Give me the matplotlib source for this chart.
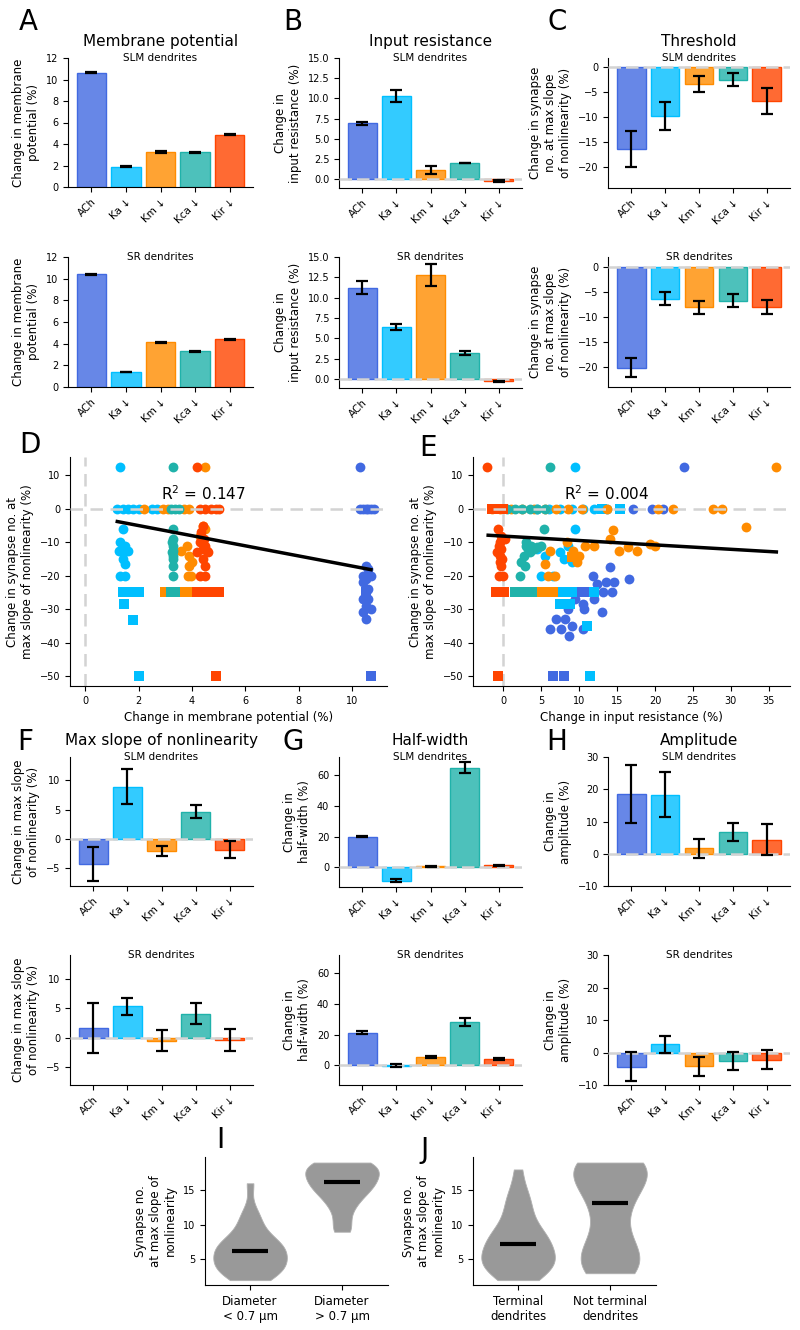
import numpy as np
import matplotlib
matplotlib.use("Agg")
import matplotlib.pyplot as plt
from matplotlib.colors import to_rgba

# ---------------- data ----------------
channels = ["ACh", "Ka ↓", "Km ↓", "Kca ↓", "Kir ↓"]
colors = ["royalblue", "deepskyblue", "darkorange", "lightseagreen", "orangered"]

# A - membrane potential
mp_slm = [10.65, 1.9, 3.25, 3.25, 4.85]
mp_slm_err = [0.05, 0.06, 0.08, 0.05, 0.05]
mp_sr = [10.4, 1.4, 4.15, 3.3, 4.4]
mp_sr_err = [0.04, 0.03, 0.05, 0.04, 0.05]
# B - input resistance
ir_slm = [6.9, 10.3, 1.1, 2.0, -0.25]
ir_slm_err = [0.2, 0.75, 0.5, 0.05, 0.1]
ir_sr = [11.2, 6.4, 12.8, 3.2, -0.3]
ir_sr_err = [0.8, 0.35, 1.4, 0.2, 0.1]
# C - threshold
th_slm = [-16.4, -9.7, -3.4, -2.5, -6.8]
th_slm_err = [3.6, 2.8, 1.6, 1.3, 2.6]
th_sr = [-20.1, -6.3, -8.0, -6.7, -8.0]
th_sr_err = [1.9, 1.3, 1.3, 1.3, 1.4]
# F - max slope
ms_slm = [-4.2, 8.9, -2.0, 4.7, -1.8]
ms_slm_err = [2.9, 3.0, 0.9, 1.1, 1.4]
ms_sr = [1.7, 5.3, -0.5, 4.1, -0.4]
ms_sr_err = [4.2, 1.4, 1.8, 1.7, 1.8]
# G - half-width
hw_slm = [20.0, -9.0, 0.6, 65.0, 1.2]
hw_slm_err = [0.6, 1.0, 0.3, 3.5, 0.3]
hw_sr = [21.2, -0.3, 5.3, 28.4, 4.1]
hw_sr_err = [1.0, 1.2, 0.6, 2.5, 0.6]
# H - amplitude
am_slm = [18.6, 18.3, 1.7, 6.6, 4.4]
am_slm_err = [9.0, 7.0, 3.0, 2.8, 4.7]
am_sr = [-4.4, 2.5, -4.3, -2.5, -2.2]
am_sr_err = [4.5, 2.7, 3.0, 2.8, 2.9]

# D - threshold change vs membrane potential change (circles / squares)
ach_d_cx = [10.3, 10.3, 10.4, 10.5, 10.6, 10.7, 10.8, 10.5, 10.6, 10.4, 10.5, 10.7, 10.4, 10.6, 10.5, 10.4, 10.6, 10.5, 10.7, 10.4, 10.5]
ach_d_cy = [12.5, 0, 0, 0, 0, 0, 0, -17, -18, -20, -21, -20, -22, -24, -25, -27, -27, -29, -30, -31, -33]
ach_d_sx = [10.5, 10.7]
ach_d_sy = [-25, -50]
ka_d_cx = [1.3, 1.2, 1.4, 1.6, 1.8, 2.0, 2.5, 2.7, 1.4, 1.3, 1.4, 1.5, 1.25, 1.35, 1.45, 1.6, 1.4, 1.5, 1.3, 1.5]
ka_d_cy = [12.5, 0, 0, 0, 0, 0, 0, 0, -6, -10, -11, -11, -12.5, -12.5, -13, -12.5, -15, -16.5, -20, -20]
ka_d_sx = [1.4, 1.6, 1.8, 2.0, 1.45, 1.8, 2.0]
ka_d_sy = [-25, -25, -25, -25, -28.6, -33.3, -50]
km_d_cx = [4.5, 2.2, 2.9, 3.1, 3.7, 3.9, 4.4, 4.5, 4.3, 3.6, 3.8, 3.9, 4.0, 3.9, 3.85, 3.95]
km_d_cy = [12.5, 0, 0, 0, 0, 0, -5, -6, -8, -12.5, -11, -14, -16, -17, -20, -20]
km_d_sx = [3.0, 3.6, 3.95]
km_d_sy = [-25, -25, -25]
kca_d_cx = [3.3, 3.2, 3.35, 3.5, 3.3, 3.3, 3.25, 3.3, 3.3, 3.25, 3.3, 3.3, 3.3, 3.3]
kca_d_cy = [12.5, 0, 0, 0, -6, -9, -10, -11, -12.5, -13, -14, -15, -17, -20]
kca_d_sx = [3.2, 3.35]
kca_d_sy = [-25, -25]
kir_d_cx = [4.2, 4.3, 4.5, 4.7, 4.9, 5.0, 4.4, 4.35, 4.45, 4.3, 4.5, 4.4, 4.55, 4.2, 4.6, 4.4, 4.5, 4.3, 4.5]
kir_d_cy = [12.5, 0, 0, 0, 0, 0, -5, -7, -9, -10, -11, -12, -12.5, -13, -13, -15, -17, -20, -20]
kir_d_sx = [4.2, 4.4, 4.6, 4.8, 5.0, 4.9]
kir_d_sy = [-25, -25, -25, -25, -25, -50]
fit_d_x = [1.2, 10.7]
fit_d_y = [-3.8, -18.2]

# E - threshold change vs input resistance change
ach_e_cx = [23.8, 17.1, 19.6, 21.0, 14.1, 16.6, 13.5, 14.6, 11.8, 12.4, 11.5, 13.2, 14.3, 9.5, 10.5, 12.0, 8.5, 13.0, 10.6, 7.0, 8.1, 9.0, 10.5, 7.6, 6.2, 8.6]
ach_e_cy = [12.5, 0, 0, 0, -17.5, -21, -22, -22, -20, -22.5, -25, -25, -25, -27, -28.6, -27, -30, -31, -30, -33, -33, -35, -36, -36, -36, -38]
ach_e_sx = [10.0, 11.0, 8.5, 6.6, 8.0]
ach_e_sy = [-25, -25, -28.6, -50, -50]
ka_e_cx = [9.5, 4.5, 6.0, 7.5, 9.0, 10.5, 12.0, 13.7, 9.5, 5.5, 4.5, 7.5, 8.5, 9.0, 6.5, 5.0, 8.0]
ka_e_cy = [12.5, 0, 0, 0, 0, 0, 0, 0, -6, -14, -12, -13, -11, -16, -20, -20, -15]
ka_e_sx = [13.0, 15.4, 7.0, 8.0, 9.0, 12.0, 7.5, 8.8, 11.0, 11.4]
ka_e_sy = [0, 0, -25, -25, -25, -25, -28.6, -28.6, -35, -50]
km_e_cx = [36.0, -1.5, -0.5, 1.0, 2.5, 4.0, 5.5, 7.0, 8.5, 10.4, 13.7, 20.4, 22.4, 27.6, 28.8, 32.0, 14.4, 14.0, 15.3, 16.5, 17.6, 19.3, 20.0, 11.9, 10.8, 8.4, 9.2, 6.2, 5.5, 5.9, 6.8, 10.0, 9.7]
km_e_cy = [12.5, 0, 0, 0, 0, 0, 0, 0, 0, 0, 0, 0, 0, 0, 0, -5.3, -6.3, -9, -12.5, -11.5, -12.5, -10.5, -11, -11, -11, -10, -12.5, -12.5, -16.5, -20, -20, -14, -16]
km_e_sx = [4.5, 5.5, 6.5, 9.0]
km_e_sy = [-25, -25, -25, -14.3]
kca_e_cx = [6.2, 0.5, 1.5, 2.5, 3.5, 4.5, 5.5, 5.3, 2.7, 3.0, 3.3, 3.7, 4.0, 4.5, 5.0, 2.3, 2.8, 2.2, 3.5, 3.0]
kca_e_cy = [12.5, 0, 0, 0, 0, 0, 0, -6, -14, -11, -12, -11, -12, -11.5, -11, -16, -17, -20, -13, -10]
kca_e_sx = [1.5, 2.3, 3.0, 3.8]
kca_e_sy = [-25, -25, -25, -25]
kir_e_cx = [-2.1, -0.7, -0.3, 0.2, -0.5, -0.6, -0.3, -0.8, -0.4, -0.2, -0.5, -0.3, 0.0, -0.6]
kir_e_cy = [12.5, -6, -8, -9, -10, -11, -12, -13, -14, -15, -16, -17, -20, -20]
kir_e_sx = [-1.5, -0.8, 0.0, -1.0, -0.3, 0.1, -0.7]
kir_e_sy = [0, 0, 0, -25, -25, -25, -50]
fit_e_x = [-2.0, 36.0]
fit_e_y = [-7.9, -12.9]

# I / J - synapse no. at max slope of nonlinearity
diam_small = [2, 2, 3, 3, 3, 4, 4, 4, 5, 5, 5, 5, 6.25, 6.5, 6.5, 7, 7, 7, 8, 8, 9, 10, 11, 12, 16]
diam_large = [9, 10, 12, 13, 14, 14.5, 15, 15.5, 16, 16.2, 16.5, 17, 17.5, 18, 18, 18.5, 19, 19, 19]
terminal = [2, 2, 3, 3, 4, 4, 4, 5, 5, 5, 5, 6, 6, 7.2, 7.5, 7.5, 8, 8, 9, 9, 10, 11, 12, 13, 14, 15, 18]
not_terminal = [3, 3, 3.5, 4, 5, 5.5, 6, 7, 8, 10, 12, 13.2, 14, 15, 16, 17, 17.5, 18, 18.5, 18.8, 19, 19, 19]

# ---------------- layout ----------------
W, H = 800, 1330
fig = plt.figure(figsize=(W / 100, H / 100), dpi=100)


def place(l, t, r, b):
    ax = fig.add_axes([l / W, 1 - b / H, (r - l) / W, (b - t) / H])
    ax.spines["top"].set_visible(False)
    ax.spines["right"].set_visible(False)
    ax.tick_params(labelsize=7)
    return ax


def bar_panel(ax, vals, errs, ylim, yticks, ylabel, sub, title=None, fmt=None, zero=True):
    x = np.arange(len(vals))
    ax.bar(x, vals, width=0.85, color=[to_rgba(c, 0.8) for c in colors],
           edgecolor=colors, linewidth=1, zorder=2)
    if zero:
        ax.axhline(0, color="lightgray", lw=1.8, ls="--", dashes=(5, 2), zorder=3)
    ax.errorbar(x, vals, yerr=errs, fmt="none", ecolor="black", elinewidth=1.6,
                capsize=4, capthick=1.6, zorder=4)
    ax.set_xlim(-0.68, 4.68)
    ax.set_ylim(*ylim)
    ax.set_yticks(yticks)
    if fmt:
        ax.set_yticklabels([fmt % v for v in yticks])
    ax.set_xticks(x)
    ax.set_xticklabels(channels, rotation=45, ha="right", rotation_mode="anchor", fontsize=7.5)
    ax.set_ylabel(ylabel, fontsize=8.5)
    ax.text(0.5, 1.0, sub, transform=ax.transAxes, ha="center", va="center", fontsize=7.5)
    if title:
        ax.text(0.5, 1.125, title, transform=ax.transAxes, ha="center", va="center", fontsize=11)


# A
ax = place(68, 58, 253, 187)
bar_panel(ax, mp_slm, mp_slm_err, (0, 12), range(0, 13, 2), "Change in membrane\npotential (%)",
          "SLM dendrites", "Membrane potential", zero=False)
ax = place(68, 257, 253, 387)
bar_panel(ax, mp_sr, mp_sr_err, (0, 12), range(0, 13, 2), "Change in membrane\npotential (%)",
          "SR dendrites", zero=False)
# B
bt = np.arange(0, 15.1, 2.5)
ax = place(339, 58, 522, 188)
bar_panel(ax, ir_slm, ir_slm_err, (-1.1, 15), bt, "Change in\ninput resistance (%)",
          "SLM dendrites", "Input resistance", fmt="%.1f")
ax = place(339, 257, 522, 388)
bar_panel(ax, ir_sr, ir_sr_err, (-1.1, 15), bt, "Change in\ninput resistance (%)",
          "SR dendrites", fmt="%.1f")
# C
ax = place(608, 58, 790, 188)
bar_panel(ax, th_slm, th_slm_err, (-24.2, 1.8), range(-20, 1, 5),
          "Change in synapse\nno. at max slope\nof nonlinearity (%)", "SLM dendrites", "Threshold")
ax = place(608, 257, 790, 387)
bar_panel(ax, th_sr, th_sr_err, (-24, 2), range(-20, 1, 5),
          "Change in synapse\nno. at max slope\nof nonlinearity (%)", "SR dendrites")
# F
ax = place(70, 757, 253, 886)
bar_panel(ax, ms_slm, ms_slm_err, (-8, 14), [-5, 0, 5, 10], "Change in max slope\nof nonlinearity (%)",
          "SLM dendrites", "Max slope of nonlinearity")
ax = place(70, 955, 253, 1085)
bar_panel(ax, ms_sr, ms_sr_err, (-8, 14), [-5, 0, 5, 10], "Change in max slope\nof nonlinearity (%)",
          "SR dendrites")
# G
ax = place(339, 757, 522, 887)
bar_panel(ax, hw_slm, hw_slm_err, (-13, 72), [0, 20, 40, 60], "Change in\nhalf-width (%)",
          "SLM dendrites", "Half-width")
ax = place(339, 955, 522, 1085)
bar_panel(ax, hw_sr, hw_sr_err, (-13, 72), [0, 20, 40, 60], "Change in\nhalf-width (%)",
          "SR dendrites")
# H
ax = place(608, 757, 790, 886)
bar_panel(ax, am_slm, am_slm_err, (-10, 30), [-10, 0, 10, 20, 30], "Change in\namplitude (%)",
          "SLM dendrites", "Amplitude")
ax = place(608, 955, 790, 1085)
bar_panel(ax, am_sr, am_sr_err, (-10, 30), [-10, 0, 10, 20, 30], "Change in\namplitude (%)",
          "SR dendrites")


def scatter_panel(ax, groups, fit_x, fit_y, r2, xlim, xticks, xlabel):
    for (cx, cy, sx, sy), c in zip(groups, colors):
        ax.scatter(cx, cy, s=50, color=c, marker="o", linewidths=0, zorder=2)
        ax.scatter(sx, sy, s=50, color=c, marker="s", linewidths=0, zorder=2)
    ax.axhline(0, color="lightgray", lw=1.8, ls="--", dashes=(5, 3), zorder=3)
    ax.axvline(0, color="lightgray", lw=1.8, ls="--", dashes=(5, 3), zorder=1)
    ax.plot(fit_x, fit_y, color="black", lw=2.5, zorder=4)
    ax.text(0.42, 0.84, r2, transform=ax.transAxes, ha="center", va="center", fontsize=11)
    ax.set_xlim(*xlim)
    ax.set_xticks(xticks)
    ax.set_ylim(-53, 15.5)
    ax.set_yticks(range(-50, 11, 10))
    ax.set_xlabel(xlabel, fontsize=8.5)
    ax.set_ylabel("Change in synapse no. at\nmax slope of nonlinearity (%)", fontsize=8.5)


ax = place(70, 457, 387, 686)
scatter_panel(ax, [(ach_d_cx, ach_d_cy, ach_d_sx, ach_d_sy), (ka_d_cx, ka_d_cy, ka_d_sx, ka_d_sy),
                   (km_d_cx, km_d_cy, km_d_sx, km_d_sy), (kca_d_cx, kca_d_cy, kca_d_sx, kca_d_sy),
                   (kir_d_cx, kir_d_cy, kir_d_sx, kir_d_sy)],
              fit_d_x, fit_d_y, "R$^2$ = 0.147", (-0.57, 11.3), range(0, 11, 2),
              "Change in membrane potential (%)")
ax = place(473, 457, 790, 686)
scatter_panel(ax, [(ach_e_cx, ach_e_cy, ach_e_sx, ach_e_sy), (ka_e_cx, ka_e_cy, ka_e_sx, ka_e_sy),
                   (km_e_cx, km_e_cy, km_e_sx, km_e_sy), (kca_e_cx, kca_e_cy, kca_e_sx, kca_e_sy),
                   (kir_e_cx, kir_e_cy, kir_e_sx, kir_e_sy)],
              fit_e_x, fit_e_y, "R$^2$ = 0.004", (-4, 37.8), range(0, 36, 5),
              "Change in input resistance (%)")


def violin_panel(ax, data, labels):
    parts = ax.violinplot(data, positions=[0, 1], widths=0.8, showextrema=False,
                          showmedians=True, bw_method=0.45)
    for b in parts["bodies"]:
        b.set_facecolor("#999999")
        b.set_edgecolor("#b0b0b0")
        b.set_linewidth(0.6)
        b.set_alpha(1)
    parts["cmedians"].set_color("black")
    parts["cmedians"].set_linewidth(3)
    ax.set_xlim(-0.49, 1.5)
    ax.set_ylim(1.3, 19.8)
    ax.set_yticks([5, 10, 15])
    ax.set_xticks([0, 1])
    ax.set_xticklabels(labels, fontsize=8.5)
    ax.set_ylabel("Synapse no.\nat max slope of\nnonlinearity", fontsize=8.5)


ax = place(205, 1157, 388, 1285)
violin_panel(ax, [diam_small, diam_large], ["Diameter\n< 0.7 µm", "Diameter\n> 0.7 µm"])
ax = place(473, 1157, 656, 1285)
violin_panel(ax, [terminal, not_terminal], ["Terminal\ndendrites", "Not terminal\ndendrites"])

# panel letters
for letter, x, y in [("A", 28, 22), ("B", 293, 22), ("C", 557, 22), ("D", 30, 445),
                     ("E", 428, 448), ("F", 25, 742), ("G", 293, 742), ("H", 557, 742),
                     ("I", 220, 1140), ("J", 425, 1150)]:
    fig.text(x / W, 1 - y / H, letter, fontsize=20, ha="center", va="center")

fig.savefig("out.png", dpi=100)
